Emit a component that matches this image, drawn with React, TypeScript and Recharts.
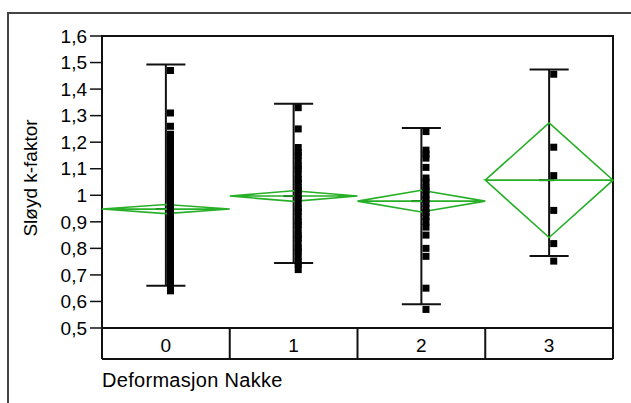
import React from 'react';
import {
  ComposedChart,
  Scatter,
  XAxis,
  YAxis,
  ReferenceLine,
  ReferenceArea
} from 'recharts';

const FONT = '"Liberation Sans", Arial, sans-serif';
const GREEN = '#27b027';
const INK = '#111111';

// groups of "Deformasjon Nakke"
const GROUPS = [0, 1, 2, 3];
const GROUP_EDGES = [-0.5, 0.5, 1.5, 2.5, 3.5];
const Y_TICKS = [0.5, 0.6, 0.7, 0.8, 0.9, 1, 1.1, 1.2, 1.3, 1.4, 1.5, 1.6];

// group means and means-diamond half heights
const MEANS = [0.948, 0.997, 0.978, 1.057];
const DIAMOND_HALF = [0.017, 0.02, 0.041, 0.216];

// whisker ends
const WHISKER_LOW = [0.659, 0.745, 0.589, 0.771];
const WHISKER_HIGH = [1.493, 1.345, 1.253, 1.474];

// observations per group
const POINTS_0 = [
  1.47, 1.31, 1.26, 1.23, 1.21, 1.2, 1.18, 1.16, 1.15, 1.13, 1.11, 1.1, 1.08,
  1.06, 1.05, 1.03, 1.01, 1.0, 0.99, 0.97, 0.96, 0.95, 0.94, 0.93, 0.91, 0.9,
  0.88, 0.87, 0.85, 0.83, 0.82, 0.8, 0.78, 0.77, 0.75, 0.73, 0.72, 0.7, 0.68,
  0.67, 0.65, 0.64
];
const POINTS_1 = [
  1.33, 1.25, 1.18, 1.16, 1.15, 1.13, 1.11, 1.1, 1.08, 1.06, 1.05, 1.03, 1.02,
  1.0, 0.99, 0.97, 0.95, 0.94, 0.92, 0.9, 0.89, 0.87, 0.85, 0.84, 0.82, 0.8,
  0.79, 0.77, 0.75, 0.74, 0.72
];
const POINTS_2 = [
  1.24, 1.17, 1.155, 1.14, 1.105, 1.065, 1.05, 1.03, 1.02, 1.0, 0.985, 0.97,
  0.95, 0.935, 0.92, 0.9, 0.88, 0.85, 0.8, 0.77, 0.65, 0.57
];
const POINTS_3 = [1.456, 1.181, 1.074, 0.943, 0.818, 0.752];
const POINTS = [POINTS_0, POINTS_1, POINTS_2, POINTS_3];

const POINT_SHIFT = 0.036;
const CAP_HALF = 0.153;
const MEAN_TICK = [-0.08, 0.04];

const formatY = (v: number) => (v === 1 ? '1' : v.toFixed(1).replace('.', ','));

const square = (props: any) => (
  <rect x={props.cx - 3.5} y={props.cy - 3.5} width={7} height={7} fill="#000" />
);
const noDot = () => <g />;
const noTick = () => <g />;

const diamondPath = (g: number) => {
  const m = MEANS[g];
  const h = DIAMOND_HALF[g];
  return [
    { x: g - 0.5, y: m },
    { x: g, y: m + h },
    { x: g + 0.5, y: m },
    { x: g, y: m - h },
    { x: g - 0.5, y: m },
    { x: g + 0.5, y: m }
  ];
};

// group names sit inside the box under the plot
const GroupTick = (props: any) => (
  <text
    x={props.x}
    y={props.y - 7.5}
    textAnchor="middle"
    fill="#000"
    fontSize={19}
    fontFamily={FONT}
  >
    {props.payload.value}
  </text>
);

const YTitle = (props: any) => {
  const { viewBox } = props;
  const cx = 30;
  const cy = viewBox.y + viewBox.height / 2 - 4;
  return (
    <text
      x={cx}
      y={cy}
      dy={7}
      transform={`rotate(-90, ${cx}, ${cy})`}
      textAnchor="middle"
      fill="#000"
      fontSize={19}
      fontFamily={FONT}
    >
      Sløyd k-faktor
    </text>
  );
};

export default function App() {
  return (
    <div
      style={{
        position: 'absolute',
        left: 0,
        top: 0,
        width: 631,
        height: 403,
        overflow: 'hidden',
        background: '#fff'
      }}
    >
      <div
        style={{
          position: 'absolute',
          left: 7,
          top: 12,
          width: 660,
          height: 440,
          border: '2px solid #444'
        }}
      />
      <ComposedChart
        width={631}
        height={403}
        margin={{ top: 36, right: 18, bottom: 0, left: 0 }}
      >
        <XAxis
          xAxisId="box"
          type="number"
          dataKey="x"
          domain={[-0.5, 3.5]}
          ticks={GROUP_EDGES}
          interval={0}
          tick={noTick}
          tickSize={31}
          height={31}
          axisLine={{ stroke: INK, strokeWidth: 2 }}
          tickLine={{ stroke: INK, strokeWidth: 2 }}
        />
        <XAxis
          xAxisId="cat"
          type="number"
          dataKey="x"
          domain={[-0.5, 3.5]}
          ticks={GROUPS}
          interval={0}
          tickLine={false}
          tickSize={0}
          tickMargin={0}
          height={44}
          tick={GroupTick}
          axisLine={{ stroke: INK, strokeWidth: 2 }}
          label={{
            value: 'Deformasjon Nakke',
            position: 'insideLeft',
            offset: 0,
            dy: -1,
            fill: '#000',
            fontSize: 20,
            letterSpacing: 0.3,
            fontFamily: FONT
          }}
        />
        <YAxis
          type="number"
          dataKey="y"
          domain={[0.5, 1.6]}
          ticks={Y_TICKS}
          interval={0}
          width={102}
          tickSize={12}
          tickMargin={3}
          tickFormatter={formatY}
          tick={{ fill: '#000', fontSize: 19, fontFamily: FONT }}
          axisLine={{ stroke: INK, strokeWidth: 2 }}
          tickLine={{ stroke: INK, strokeWidth: 1.5 }}
          label={{ content: YTitle }}
        />

        {/* frame of the plot area */}
        <ReferenceArea
          xAxisId="cat"
          x1={-0.5}
          x2={3.5}
          y1={0.5}
          y2={1.6}
          fill="none"
          stroke={INK}
          strokeWidth={2}
        />

        {/* means diamonds */}
        {GROUPS.map((g) => (
          <Scatter
            key={`diamond-${g}`}
            xAxisId="box"
            data={diamondPath(g)}
            shape={noDot}
            line={{ stroke: GREEN, strokeWidth: 1.6 }}
            lineType="joint"
            isAnimationActive={false}
          />
        ))}

        {/* whiskers with caps */}
        {GROUPS.map((g) => (
          <ReferenceLine
            key={`whisker-${g}`}
            xAxisId="cat"
            segment={[
              { x: g, y: WHISKER_LOW[g] },
              { x: g, y: WHISKER_HIGH[g] }
            ]}
            stroke={INK}
            strokeWidth={2}
          />
        ))}
        {GROUPS.map((g) => (
          <ReferenceLine
            key={`cap-low-${g}`}
            xAxisId="cat"
            segment={[
              { x: g - CAP_HALF, y: WHISKER_LOW[g] },
              { x: g + CAP_HALF, y: WHISKER_LOW[g] }
            ]}
            stroke={INK}
            strokeWidth={2}
          />
        ))}
        {GROUPS.map((g) => (
          <ReferenceLine
            key={`cap-high-${g}`}
            xAxisId="cat"
            segment={[
              { x: g - CAP_HALF, y: WHISKER_HIGH[g] },
              { x: g + CAP_HALF, y: WHISKER_HIGH[g] }
            ]}
            stroke={INK}
            strokeWidth={2}
          />
        ))}
        {GROUPS.map((g) => (
          <ReferenceLine
            key={`mean-${g}`}
            xAxisId="cat"
            segment={[
              { x: g + MEAN_TICK[0], y: MEANS[g] },
              { x: g + MEAN_TICK[1], y: MEANS[g] }
            ]}
            stroke={INK}
            strokeWidth={2}
          />
        ))}

        {/* observations */}
        {GROUPS.map((g) => (
          <Scatter
            key={`points-${g}`}
            xAxisId="cat"
            data={POINTS[g].map((v) => ({ x: g + POINT_SHIFT, y: v }))}
            shape={square}
            isAnimationActive={false}
          />
        ))}
      </ComposedChart>
    </div>
  );
}
